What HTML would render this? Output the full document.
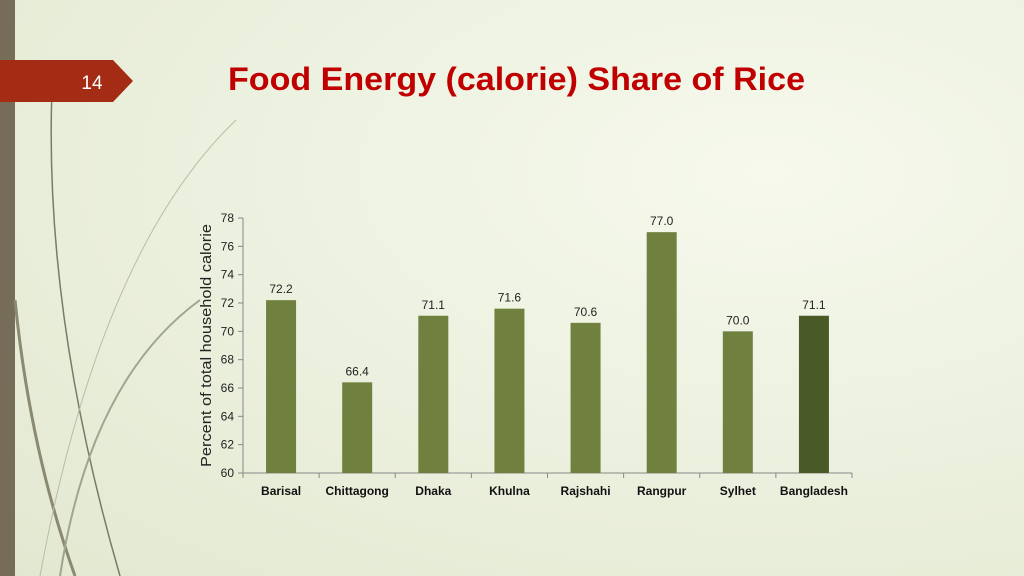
<!DOCTYPE html>
<html><head><meta charset="utf-8"><style>
body{margin:0;width:1024px;height:576px;overflow:hidden;font-family:"Liberation Sans",sans-serif}
#bg{position:absolute;left:0;top:0;width:1024px;height:576px;background:radial-gradient(ellipse at 75% 30%,#f6f9ec 0%,#eaefdc 60%,#e2e8d0 100%)}
</style></head><body>
<div id="bg"></div>
<svg width="1024" height="576" style="position:absolute;left:0;top:0">
<rect x="0" y="0" width="15" height="576" fill="#766c58"/>
<path d="M53 68 Q40 300 120 576" stroke="#7a7a68" stroke-width="1.5" fill="none"/>
<path d="M15 300 Q30 450 75 576" stroke="#8a8a70" stroke-width="3" fill="none"/>
<path d="M236 120 Q100 250 40 576" stroke="#b8bca8" stroke-width="1" fill="none"/>
<path d="M200 300 Q90 380 60 576" stroke="#a0a490" stroke-width="2" fill="none"/>
<polygon points="0,60 113,60 133,81 113,102 0,102" fill="#a52c14"/>
<text x="92" y="89" fill="#fff" font-size="19" text-anchor="middle">14</text>
<text x="228" y="90" fill="#c00000" font-size="32" font-weight="bold" textLength="577" lengthAdjust="spacingAndGlyphs">Food Energy (calorie) Share of Rice</text>
<g id="chart"></g>
</svg>
<script>
const categories=["Barisal","Chittagong","Dhaka","Khulna","Rajshahi","Rangpur","Sylhet","Bangladesh"];
const values=[72.2,66.4,71.1,71.6,70.6,77.0,70.0,71.1];
const yTicks=[60,62,64,66,68,70,72,74,76,78];
const NS="http://www.w3.org/2000/svg";
const g=document.getElementById("chart");
const x0=243,x1=852,yTop=218,yBot=473,yMin=60,yMax=78;
const band=(x1-x0)/categories.length;
const y=v=>yBot-(v-yMin)/(yMax-yMin)*(yBot-yTop);
function mk(t,a){const e=document.createElementNS(NS,t);for(const k in a)e.setAttribute(k,a[k]);g.appendChild(e);return e;}
let ax=mk("line",{x1:x0,y1:yTop,x2:x0,y2:yBot,stroke:"#888","stroke-width":1});


let bx=mk("line",{x1:x0,y1:yBot,x2:x1,y2:yBot,stroke:"#888","stroke-width":1});


yTicks.forEach(v=>{
 mk("line",{x1:x0-5,y1:y(v),x2:x0,y2:y(v),stroke:"#888"});
 const t=mk("text",{x:x0-9,y:y(v)+4,"font-size":12,fill:"#222","text-anchor":"end"});
 t.textContent=v;
 
 
});
for(let i=0;i<=categories.length;i++)mk("line",{x1:x0+i*band,y1:yBot,x2:x0+i*band,y2:yBot+5,stroke:"#888"});
categories.forEach((c,i)=>{
 const cx=x0+(i+0.5)*band;
 const r=mk("rect",{x:cx-15,y:y(values[i]),width:30,height:yBot-y(values[i]),fill:i===7?"#4a5a26":"#6f803f"});
 
 
 const l=mk("text",{x:cx,y:y(values[i])-7,"font-size":12,fill:"#222","text-anchor":"middle"});
 l.textContent=values[i].toFixed(1);
 
 
 const ct=mk("text",{x:cx,y:495,"font-size":12,"font-weight":"bold",fill:"#111","text-anchor":"middle"});
 ct.textContent=c;
 
 
});
const yt=mk("text",{x:-122,y:0,"font-size":15,fill:"#222",textLength:243,lengthAdjust:"spacingAndGlyphs",transform:"translate(211,345) rotate(-90)"});
yt.textContent="Percent of total household calorie";


</script>
</body></html>
